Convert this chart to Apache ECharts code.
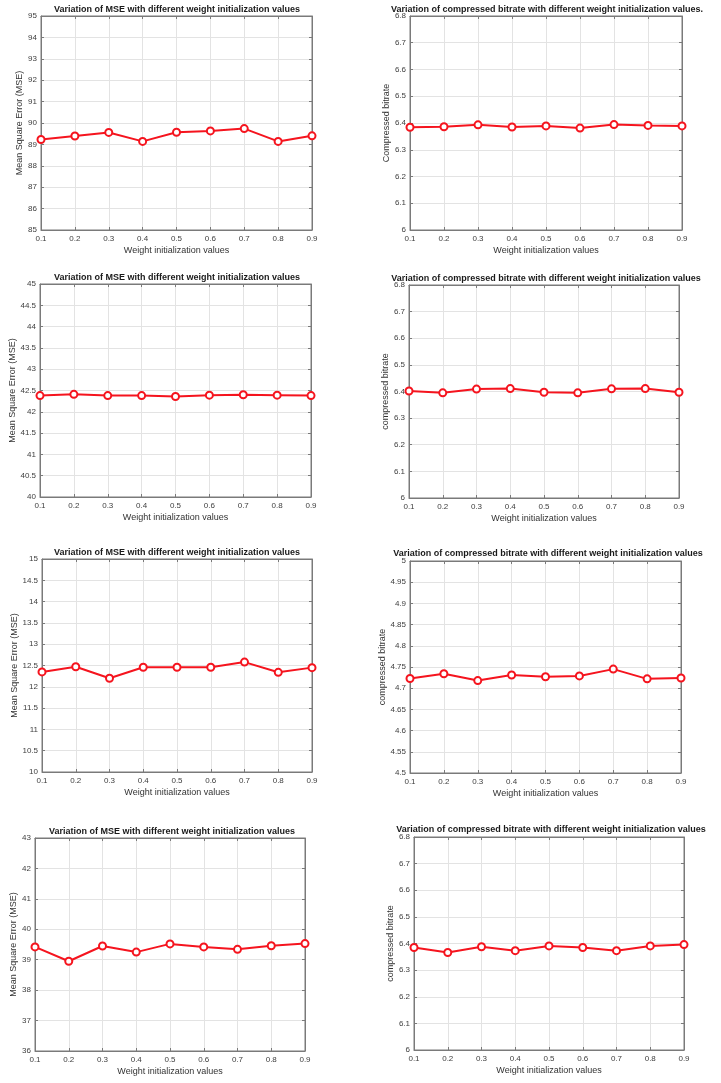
<!DOCTYPE html>
<html>
<head>
<meta charset="utf-8">
<script src="https://cdn.jsdelivr.net/npm/echarts@6/dist/echarts.min.js"></script>
<style>
html,body{margin:0;padding:0;background:#fff;}
#c{width:721px;height:1083px;}
</style>
</head>
<body>
<div id="c"></div>
<script>
// ---- data ----
const weightValues = ['0.1','0.2','0.3','0.4','0.5','0.6','0.7','0.8','0.9'];
const mse1 = [89.23, 89.39, 89.56, 89.14, 89.57, 89.63, 89.74, 89.14, 89.40];
const bitrate1 = [6.384, 6.386, 6.393, 6.385, 6.389, 6.381, 6.394, 6.391, 6.389];
const mse2 = [42.38, 42.41, 42.38, 42.38, 42.36, 42.39, 42.40, 42.39, 42.38];
const bitrate2 = [6.402, 6.395, 6.409, 6.411, 6.397, 6.395, 6.410, 6.411, 6.397];
const mse3 = [12.35, 12.47, 12.20, 12.46, 12.46, 12.46, 12.58, 12.34, 12.45];
const bitrate3 = [4.723, 4.734, 4.718, 4.731, 4.727, 4.729, 4.745, 4.722, 4.724];
const mse4 = [39.42, 38.95, 39.45, 39.25, 39.52, 39.42, 39.34, 39.46, 39.53];
const bitrate4 = [6.385, 6.366, 6.388, 6.373, 6.391, 6.385, 6.373, 6.391, 6.396];

const titleMSE = 'Variation of MSE with different weight initialization values';
const titleBR1 = 'Variation of compressed bitrate with different weight initialization values.';
const titleBR = 'Variation of compressed bitrate with different weight initialization values';
const xName = 'Weight initialization values';
const yMSE = 'Mean Square Error (MSE)';

const panels = [
  {data: mse1, title: titleMSE, yName: yMSE, min: 85, max: 95, interval: 1,
   grid: [41,16,271,214], tx: 177, ty: 5, nameGap: 12},
  {data: bitrate1, title: titleBR1, yName: 'Compressed bitrate', min: 6, max: 6.8, interval: 0.1,
   grid: [410,16,272,214], tx: 547, ty: 5.5, nameGap: 15},
  {data: mse2, title: titleMSE, yName: yMSE, min: 40, max: 45, interval: 0.5,
   grid: [40,284,271,213], tx: 177, ty: 273.5, nameGap: 23},
  {data: bitrate2, title: titleBR, yName: 'compressed bitrate', min: 6, max: 6.8, interval: 0.1,
   grid: [409,285,270,213], tx: 546, ty: 274.5, nameGap: 16},
  {data: mse3, title: titleMSE, yName: yMSE, min: 10, max: 15, interval: 0.5,
   grid: [42,559,270,213], tx: 177, ty: 548.5, nameGap: 22},
  {data: bitrate3, title: titleBR, yName: 'compressed bitrate', min: 4.5, max: 5, interval: 0.05,
   grid: [410,561,271,212], tx: 548, ty: 549.5, nameGap: 22},
  {data: mse4, title: titleMSE, yName: yMSE, min: 36, max: 43, interval: 1,
   grid: [35,838,270,213], tx: 172, ty: 827.5, nameGap: 13},
  {data: bitrate4, title: titleBR, yName: 'compressed bitrate', min: 6, max: 6.8, interval: 0.1,
   grid: [414,837,270,213], tx: 551, ty: 825.5, nameGap: 17}
];

const axisColor = '#7a7a7a';
const labelColor = '#3d3d3d';
const gridColor = '#e3e3e3';
const font = 'Liberation Sans, Arial, sans-serif';

const option = {
  backgroundColor: '#fff',
  animation: false,
  title: [], grid: [], xAxis: [], yAxis: [], series: []
};

panels.forEach((p, i) => {
  option.title.push({
    text: p.title, left: p.tx, top: p.ty, textAlign: 'center', padding: 0,
    textStyle: {fontSize: 9, fontWeight: 'bold', color: '#1a1a1a', fontFamily: font}
  });
  option.grid.push({
    left: p.grid[0], top: p.grid[1], width: p.grid[2], height: p.grid[3],
    show: true, borderColor: axisColor, borderWidth: 1, backgroundColor: '#fff'
  });
  // bottom x axis
  option.xAxis.push({
    type: 'category', gridIndex: i, data: weightValues, boundaryGap: false,
    name: xName, nameLocation: 'middle', nameGap: 16,
    nameTextStyle: {fontSize: 9, color: '#333', fontFamily: font},
    axisLine: {show: true, lineStyle: {color: axisColor, width: 1}},
    axisTick: {show: true, inside: true, length: 3, lineStyle: {color: axisColor}},
    axisLabel: {fontSize: 8, color: labelColor, margin: 5, fontFamily: font, interval: 0},
    splitLine: {show: true, lineStyle: {color: gridColor, width: 1}}
  });
  // top mirrored x axis (ticks only)
  option.xAxis.push({
    type: 'category', gridIndex: i, data: weightValues, boundaryGap: false, position: 'top',
    axisLine: {show: true, lineStyle: {color: axisColor, width: 1}},
    axisTick: {show: true, inside: true, length: 3, lineStyle: {color: axisColor}},
    axisLabel: {show: false}, splitLine: {show: false}
  });
  option.yAxis.push({
    type: 'value', gridIndex: i, min: p.min, max: p.max, interval: p.interval,
    name: p.yName, nameLocation: 'middle', nameGap: p.nameGap,
    nameTextStyle: {fontSize: 9, color: '#333', fontFamily: font},
    axisLine: {show: true, lineStyle: {color: axisColor, width: 1}},
    axisTick: {show: true, inside: true, length: 3, lineStyle: {color: axisColor}},
    axisLabel: {fontSize: 8, color: labelColor, margin: 4, fontFamily: font},
    splitLine: {show: true, lineStyle: {color: gridColor, width: 1}}
  });
  option.yAxis.push({
    type: 'value', gridIndex: i, min: p.min, max: p.max, interval: p.interval, position: 'right',
    axisLine: {show: true, lineStyle: {color: axisColor, width: 1}},
    axisTick: {show: true, inside: true, length: 3, lineStyle: {color: axisColor}},
    axisLabel: {show: false}, splitLine: {show: false}
  });
  option.series.push({
    type: 'line', xAxisIndex: 2 * i, yAxisIndex: 2 * i, data: p.data,
    symbol: 'emptyCircle', symbolSize: 7,
    lineStyle: {color: '#f5141e', width: 2},
    itemStyle: {color: '#f5141e', borderColor: '#f5141e', borderWidth: 1.6},
    z: 5
  });
});

const chart = echarts.init(document.getElementById('c'), null, {renderer: 'canvas'});
chart.setOption(option);
</script>
</body>
</html>
